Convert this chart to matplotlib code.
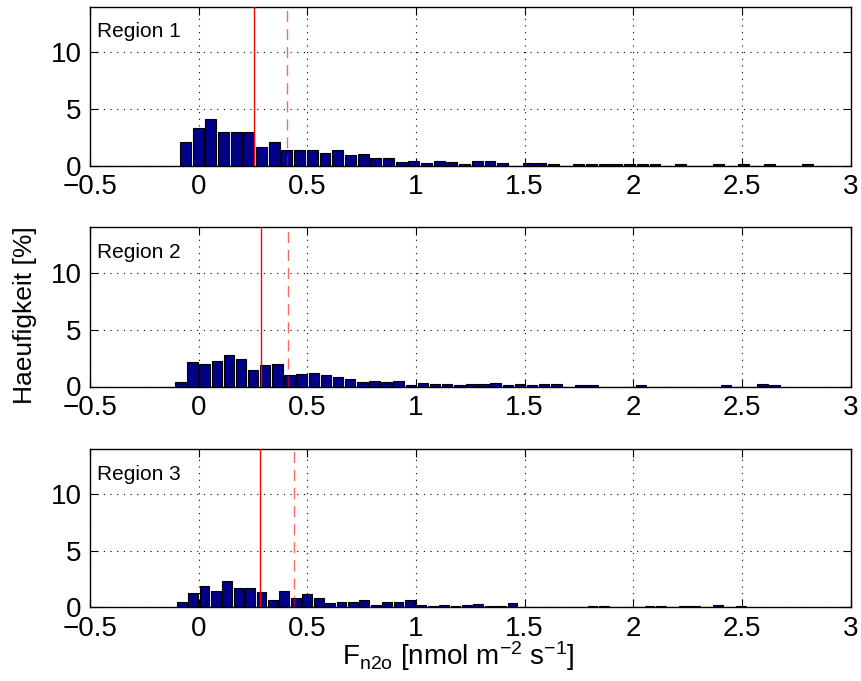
import numpy as np
import matplotlib
matplotlib.use("Agg")
import matplotlib.pyplot as plt

plt.rcParams['font.family'] = ['Liberation Sans', 'DejaVu Sans']
plt.rcParams['mathtext.default'] = 'regular'

# Histogrammdaten (Haeufigkeit in %), 50 Klassen je Region
regions = ["Region 1", "Region 2", "Region 3"]

bin_start = [-0.061, -0.084, -0.078]   # Mitte der ersten Klasse
bin_width = [0.0584, 0.0558, 0.0525]   # Klassenbreite

h1 = [2.06, 3.29, 4.12, 3.0, 2.94, 3.0, 1.65, 2.12, 1.41, 1.35,
      1.41, 1.12, 1.35, 0.94, 1.0, 0.65, 0.65, 0.29, 0.41, 0.26,
      0.38, 0.29, 0.18, 0.38, 0.44, 0.21, 0.0, 0.21, 0.21, 0.15,
      0.0, 0.12, 0.12, 0.12, 0.12, 0.18, 0.12, 0.12, 0.0, 0.12,
      0.0, 0.0, 0.12, 0.0, 0.12, 0.0, 0.12, 0.0, 0.0, 0.12]
h2 = [0.44, 2.2, 1.97, 2.26, 2.79, 2.44, 1.44, 1.91, 1.97, 1.03,
      1.09, 1.21, 0.97, 0.85, 0.62, 0.38, 0.47, 0.38, 0.47, 0.12,
      0.35, 0.26, 0.26, 0.09, 0.18, 0.2, 0.35, 0.12, 0.18, 0.12,
      0.2, 0.18, 0.0, 0.09, 0.09, 0.0, 0.0, 0.0, 0.09, 0.0,
      0.0, 0.0, 0.0, 0.0, 0.0, 0.09, 0.0, 0.0, 0.18, 0.09]
h3 = [0.44, 1.26, 1.85, 1.44, 2.32, 1.68, 1.68, 1.38, 0.62, 1.44,
      0.85, 1.15, 0.85, 0.38, 0.5, 0.5, 0.62, 0.21, 0.44, 0.5,
      0.68, 0.21, 0.09, 0.2, 0.15, 0.24, 0.29, 0.09, 0.09, 0.35,
      0.0, 0.0, 0.0, 0.0, 0.0, 0.0, 0.09, 0.09, 0.0, 0.0,
      0.0, 0.09, 0.09, 0.0, 0.09, 0.09, 0.0, 0.18, 0.0, 0.09]
heights = [h1, h2, h3]

median_line = [0.256, 0.288, 0.284]   # durchgezogen
mean_line = [0.407, 0.41, 0.437]      # gestrichelt

xticks = [-0.5, 0, 0.5, 1, 1.5, 2, 2.5, 3]
yticks = [0, 5, 10]

W, H = 861, 681
fig = plt.figure(figsize=(W / 100, H / 100), dpi=100)

# Achsenpositionen in Pixeln (oben, unten)
ax_px = [(6.7, 165.7), (227.5, 386.5), (449.3, 607.3)]
left, right = 90, 850.6

for i in range(3):
    top, bot = ax_px[i]
    ax = fig.add_axes([left / W, 1 - bot / H, (right - left) / W, (bot - top) / H])
    centers = bin_start[i] + bin_width[i] * np.arange(len(heights[i]))
    ax.bar(centers, heights[i], width=bin_width[i] * 0.86, color='#000088',
           edgecolor='black', linewidth=0.8, zorder=2)
    ax.axvline(median_line[i], color='red', lw=1.0, zorder=3)
    ax.axvline(mean_line[i], color='red', lw=1.0, alpha=0.6,
               dashes=(8, 5), zorder=3)
    ax.set_xlim(-0.5, 3)
    ax.set_ylim(0, 14)
    ax.set_xticks(xticks)
    ax.set_yticks(yticks)
    ax.set_xticklabels(["\u22120.5", "0", "0.5", "1", "1.5", "2", "2.5", "3"])
    ax.grid(True, color='black', linestyle=(0, (1, 5)), linewidth=0.8, zorder=0)
    ax.tick_params(direction='in', length=5.5, width=0.8, labelsize=20, pad=6,
                   top=True, right=True)
    for s in ax.spines.values():
        s.set_linewidth(1.0)
    ax.text(0.0095, 0.808, regions[i], transform=ax.transAxes, fontsize=15,
            va='baseline', ha='left')

fig.text(25 / W, 1 - 315 / H, "Haeufigkeit [%]", rotation=90, fontsize=19,
         ha='center', va='center')
fig.text(458 / W, 1 - 665 / H, r"F$_{n2o}$ [nmol m$^{-2}$ s$^{-1}$]",
         fontsize=20, ha='center', va='baseline')

fig.savefig("out.png", dpi=100)
